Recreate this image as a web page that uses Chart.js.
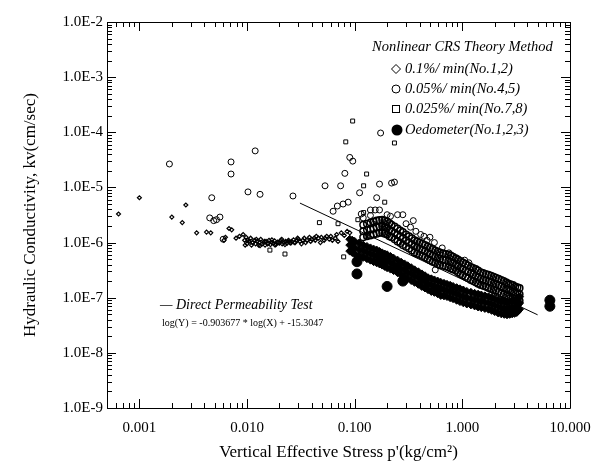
<!DOCTYPE html>
<html><head><meta charset="utf-8">
<script src="https://cdn.jsdelivr.net/npm/chart.js@4.4.1/dist/chart.umd.min.js"></script>
<style>html,body{margin:0;padding:0;background:#fff}</style>
</head><body>
<canvas id="c" width="603" height="469"></canvas>
<script>
// ---------- tick labels ----------
const xTickValues = [0.001, 0.01, 0.1, 1, 10];
const xTickLabels = ['0.001', '0.010', '0.100', '1.000', '10.000'];
const yTickValues = [1e-2, 1e-3, 1e-4, 1e-5, 1e-6, 1e-7, 1e-8, 1e-9];
const yTickLabels = ['1.0E-2', '1.0E-3', '1.0E-4', '1.0E-5', '1.0E-6', '1.0E-7', '1.0E-8', '1.0E-9'];

// ---------- 0.1%/min (No.1,2) : diamonds, scattered / plateau ----------
const diaX = [0.00064,0.001,0.0020,0.0025,0.0027,0.0034,0.0042,0.0046,0.0061,0.0063,0.0068,0.0072,0.0079,0.0085,
  0.0092,0.0095,0.0098,0.010,0.0104,0.0108,0.011,0.0113,0.0117,0.012,0.0124,0.0128,0.013,0.0134,0.0138,0.0142,
  0.0147,0.015,0.0155,0.016,0.0165,0.017,0.0176,0.018,0.0186,0.0192,0.020,0.0206,0.0212,0.022,0.0228,0.0235,
  0.0243,0.025,0.026,0.027,0.028,0.029,0.030,0.031,0.033,0.034,0.036,0.038,0.040,0.042,0.044,0.046,0.049,0.052,
  0.055,0.058,0.062,0.066,0.070,
  0.0096,0.0102,0.0112,0.0122,0.0132,0.0145,0.0158,0.017,0.0182,0.0196,0.021,0.0225,0.024,0.0255,0.0275,0.0295,
  0.032,0.035,0.039,0.043,0.048,0.053,0.060,0.068,0.075,0.080,0.085,0.090];
const diaY = [3.3e-6,6.5e-6,2.9e-6,2.3e-6,4.8e-6,1.5e-6,1.55e-6,1.5e-6,1.1e-6,1.25e-6,1.8e-6,1.7e-6,1.2e-6,1.3e-6,
  1.4e-6,1.1e-6,1.25e-6,0.95e-6,1.05e-6,1.2e-6,0.9e-6,1.0e-6,1.1e-6,0.95e-6,1.05e-6,0.9e-6,1.0e-6,1.15e-6,0.95e-6,1.0e-6,
  0.9e-6,1.05e-6,0.95e-6,1.1e-6,0.92e-6,1.0e-6,0.97e-6,1.08e-6,0.93e-6,1.02e-6,0.98e-6,1.1e-6,0.95e-6,1.0e-6,1.05e-6,0.97e-6,
  1.1e-6,1.0e-6,1.05e-6,1.12e-6,1.0e-6,1.08e-6,1.15e-6,1.05e-6,1.1e-6,1.2e-6,1.1e-6,1.25e-6,1.15e-6,1.2e-6,1.3e-6,1.2e-6,1.25e-6,1.1e-6,
  1.3e-6,1.15e-6,1.1e-6,1.2e-6,1.05e-6,
  0.9e-6,1.1e-6,1.0e-6,1.15e-6,0.88e-6,1.05e-6,0.98e-6,1.12e-6,0.9e-6,1.0e-6,1.15e-6,0.92e-6,1.05e-6,0.98e-6,1.0e-6,1.2e-6,
  0.95e-6,1.0e-6,1.05e-6,1.1e-6,1.0e-6,1.2e-6,1.3e-6,1.4e-6,1.5e-6,1.35e-6,1.6e-6,1.5e-6];

// ---------- lower dense band (0.1%/min) ----------
const lowBandX  = [0.09,0.10,0.12,0.14,0.16,0.18,0.20,0.23,0.27,0.31,0.36,0.42,0.48,0.55,0.63,0.72,0.82,0.95,1.1,1.3,1.5,1.75,2.0,2.3,2.6,2.9,3.2,3.4,
  0.095,0.11,0.13,0.15,0.17,0.19,0.215,0.25,0.29,0.335,0.39,0.45,0.515,0.59,0.675,0.77,0.885,1.02,1.2,1.4,1.62,1.87,2.15,2.45,2.75,3.05,3.3];
const lowBandHi = [1.15e-6,1.05e-6,9e-7,8e-7,7.3e-7,6.5e-7,6e-7,5.2e-7,4.4e-7,3.8e-7,3.2e-7,2.7e-7,2.3e-7,2.1e-7,1.9e-7,1.75e-7,1.6e-7,1.45e-7,1.3e-7,1.2e-7,1.12e-7,1.04e-7,9.5e-8,8.6e-8,8.2e-8,8.6e-8,9.1e-8,1.04e-7,
  1.1e-6,9.8e-7,8.5e-7,7.6e-7,6.9e-7,6.2e-7,5.6e-7,4.8e-7,4.1e-7,3.5e-7,2.95e-7,2.5e-7,2.2e-7,2.0e-7,1.82e-7,1.68e-7,1.52e-7,1.38e-7,1.25e-7,1.16e-7,1.08e-7,1.0e-7,9.0e-8,8.4e-8,8.4e-8,8.8e-8,9.8e-8];
const lowBandMid= [9e-7,8e-7,7e-7,6.2e-7,5.6e-7,5e-7,4.6e-7,4e-7,3.4e-7,2.9e-7,2.5e-7,2.1e-7,1.8e-7,1.6e-7,1.45e-7,1.35e-7,1.25e-7,1.1e-7,1.0e-7,9.2e-8,8.6e-8,8e-8,7.3e-8,6.6e-8,6.3e-8,6.6e-8,7e-8,8e-8,
  8.5e-7,7.5e-7,6.6e-7,5.9e-7,5.3e-7,4.8e-7,4.3e-7,3.7e-7,3.15e-7,2.7e-7,2.3e-7,1.95e-7,1.7e-7,1.52e-7,1.4e-7,1.3e-7,1.18e-7,1.05e-7,9.6e-8,8.9e-8,8.3e-8,7.6e-8,6.9e-8,6.4e-8,6.4e-8,6.8e-8,7.5e-8];
const lowBandLo = [7e-7,6.2e-7,5.4e-7,4.8e-7,4.3e-7,3.9e-7,3.5e-7,3.1e-7,2.6e-7,2.2e-7,1.9e-7,1.6e-7,1.4e-7,1.25e-7,1.1e-7,1.05e-7,9.6e-8,8.5e-8,7.7e-8,7.1e-8,6.6e-8,6.2e-8,5.6e-8,5.1e-8,4.9e-8,5.1e-8,5.4e-8,6.2e-8,
  6.6e-7,5.8e-7,5.1e-7,4.5e-7,4.1e-7,3.7e-7,3.3e-7,2.85e-7,2.4e-7,2.05e-7,1.75e-7,1.5e-7,1.3e-7,1.18e-7,1.08e-7,1.0e-7,9.0e-8,8.1e-8,7.4e-8,6.8e-8,6.4e-8,5.9e-8,5.3e-8,5.0e-8,5.0e-8,5.2e-8,5.8e-8];

// ---------- 0.05%/min (No.4,5) : circles ----------
const cirX = [0.0019,0.0071,0.0071,0.0119,0.0047,0.0102,0.0132,0.0267,0.0045,0.0049,0.0052,0.0056,0.0060,
  0.174,0.090,0.096,0.081,0.053,0.074,0.17,0.22,0.234,0.111,0.16,0.069,0.078,0.087,0.063,0.14,0.155,0.17,
  0.20,0.215,0.25,0.28,0.44,0.47,0.50,0.62,0.86,0.56,
  0.30,0.33,0.37,0.41,0.35,0.55,0.65,0.75,1.05,1.15,0.12,0.115,0.14];
const cirY = [2.66e-5,2.9e-5,1.75e-5,4.6e-5,6.5e-6,8.3e-6,7.5e-6,7.0e-6,2.8e-6,2.5e-6,2.6e-6,2.9e-6,1.15e-6,
  9.7e-5,3.5e-5,3.0e-5,1.8e-5,1.07e-5,1.07e-5,1.15e-5,1.2e-5,1.25e-5,8e-6,6.5e-6,4.6e-6,5.0e-6,5.4e-6,3.7e-6,3.9e-6,3.9e-6,3.9e-6,
  3.2e-6,3.0e-6,3.2e-6,3.2e-6,1.3e-6,1.1e-6,1.25e-6,6e-7,5.2e-7,3.2e-7,
  2.2e-6,1.9e-6,1.6e-6,1.4e-6,2.5e-6,1.0e-6,8e-7,6.5e-7,4.8e-7,4.3e-7,2.8e-6,3.3e-6,3.1e-6];

// ---------- upper dense band (0.05%/min) ----------
const upBandX  = [0.12,0.14,0.16,0.18,0.20,0.22,0.25,0.28,0.32,0.36,0.40,0.45,0.50,0.56,0.62,0.70,0.78,0.87,0.96,1.07,1.2,1.33,1.48,1.65,1.85,2.05,2.3,2.55,2.8,3.1,3.4,
  0.13,0.15,0.17,0.19,0.21,0.235,0.265,0.30,0.34,0.38,0.425,0.475,0.53,0.59,0.66,0.74,0.82,0.91,1.01,1.13,1.26,1.4,1.56,1.75,1.95,2.17,2.42,2.67,2.95,3.25];
const upBandHi = [2.1e-6,2.3e-6,2.5e-6,2.6e-6,2.4e-6,2.1e-6,1.8e-6,1.55e-6,1.3e-6,1.1e-6,1.0e-6,9e-7,8e-7,7.2e-7,6.6e-7,6.2e-7,5.8e-7,5.2e-7,4.6e-7,4.1e-7,3.6e-7,3.3e-7,2.9e-7,2.7e-7,2.5e-7,2.3e-7,2.1e-7,1.9e-7,1.75e-7,1.6e-7,1.5e-7,
  2.2e-6,2.4e-6,2.55e-6,2.5e-6,2.25e-6,1.95e-6,1.65e-6,1.4e-6,1.2e-6,1.05e-6,9.5e-7,8.5e-7,7.6e-7,6.9e-7,6.4e-7,6e-7,5.5e-7,4.9e-7,4.35e-7,3.85e-7,3.45e-7,3.1e-7,2.8e-7,2.6e-7,2.4e-7,2.2e-7,2.0e-7,1.8e-7,1.7e-7,1.55e-7];
const upBandMid= [1.6e-6,1.75e-6,1.9e-6,2.0e-6,1.85e-6,1.6e-6,1.4e-6,1.2e-6,1.0e-6,8.6e-7,7.8e-7,7e-7,6.2e-7,5.5e-7,5.1e-7,4.8e-7,4.5e-7,4e-7,3.5e-7,3.1e-7,2.8e-7,2.5e-7,2.2e-7,2.05e-7,1.9e-7,1.75e-7,1.6e-7,1.45e-7,1.35e-7,1.25e-7,1.15e-7,
  1.7e-6,1.8e-6,1.95e-6,1.9e-6,1.7e-6,1.5e-6,1.3e-6,1.1e-6,9.3e-7,8.2e-7,7.4e-7,6.6e-7,5.8e-7,5.3e-7,4.9e-7,4.6e-7,4.25e-7,3.75e-7,3.3e-7,2.95e-7,2.65e-7,2.35e-7,2.1e-7,1.95e-7,1.8e-7,1.68e-7,1.52e-7,1.4e-7,1.3e-7,1.2e-7];
const upBandLo = [1.25e-6,1.35e-6,1.45e-6,1.5e-6,1.4e-6,1.25e-6,1.05e-6,9e-7,7.8e-7,6.6e-7,6e-7,5.4e-7,4.8e-7,4.3e-7,3.9e-7,3.7e-7,3.4e-7,3.1e-7,2.7e-7,2.4e-7,2.1e-7,1.9e-7,1.7e-7,1.6e-7,1.45e-7,1.35e-7,1.2e-7,1.1e-7,1.0e-7,9.5e-8,8.8e-8,
  1.3e-6,1.4e-6,1.5e-6,1.45e-6,1.3e-6,1.15e-6,9.8e-7,8.4e-7,7.2e-7,6.3e-7,5.7e-7,5.1e-7,4.5e-7,4.1e-7,3.8e-7,3.55e-7,3.25e-7,2.9e-7,2.55e-7,2.25e-7,2.0e-7,1.8e-7,1.65e-7,1.52e-7,1.4e-7,1.28e-7,1.15e-7,1.05e-7,9.8e-8,9.2e-8];

// ---------- 0.025%/min (No.7,8) : squares ----------
const sqX = [0.0957,0.234,0.0826,0.129,0.121,0.19,0.121,0.047,0.070,0.107,0.0163,0.0225,0.15,0.18,0.186,0.079,0.296,0.26,0.13];
const sqY = [1.6e-4,6.4e-5,6.7e-5,1.75e-5,1.07e-5,5.4e-6,3.5e-6,2.3e-6,2.2e-6,2.6e-6,7.3e-7,6.2e-7,2.2e-6,2.1e-6,1.8e-6,5.5e-7,2.1e-7,1.0e-6,1.3e-6];

// ---------- Oedometer (No.1,2,3) ----------
const oedX = [0.105,0.105,0.20,0.28,6.5,6.5];
const oedY = [4.5e-7,2.7e-7,1.6e-7,2.0e-7,9.0e-8,7.0e-8];

// ---------- Direct permeability test fit line ----------
const fitX = [0.031, 5.0];
const fitY = [5.2e-6, 4.9e-8];

const X_MIN = 0.0005, X_MAX = 10, Y_MIN = 1e-9, Y_MAX = 1e-2;
const SERIF = "'Liberation Serif', 'DejaVu Serif', serif";

function pts(xs, ys){ return xs.map((x,i)=>({x:x, y:ys[i]})); }
function band(xs, a, b, c){ const o=[]; xs.forEach((x,i)=>{o.push({x:x,y:a[i]},{x:x,y:b[i]},{x:x,y:c[i]});}); return o; }

const frameTicks = {
  id: 'frameTicks',
  afterDatasetsDraw(chart){
    const {ctx, chartArea:{left,right,top,bottom}, scales:{x,y}} = chart;
    ctx.save();
    ctx.strokeStyle = '#000'; ctx.lineWidth = 1;
    ctx.beginPath();
    ctx.rect(Math.round(left)+0.5, Math.round(top)+0.5, Math.round(right-left), Math.round(bottom-top));
    ctx.stroke();
    ctx.beginPath();
    for (let d=-4; d<=1; d++) for (let m=1; m<=9; m++){
      const v = m*Math.pow(10,d);
      if (v < X_MIN*0.999 || v > X_MAX*1.001) continue;
      const px = Math.round(x.getPixelForValue(v))+0.5;
      const L = m===1 ? 9 : 5;
      ctx.moveTo(px, bottom); ctx.lineTo(px, bottom-L);
      ctx.moveTo(px, top); ctx.lineTo(px, top+L);
    }
    for (let d=-9; d<=-2; d++) for (let m=1; m<=9; m++){
      const v = m*Math.pow(10,d);
      if (v < Y_MIN*0.999 || v > Y_MAX*1.001) continue;
      const py = Math.round(y.getPixelForValue(v))+0.5;
      const L = m===1 ? 9 : 5;
      ctx.moveTo(left, py); ctx.lineTo(left+L, py);
      ctx.moveTo(right, py); ctx.lineTo(right-L, py);
    }
    ctx.stroke();
    ctx.restore();
  }
};

const annot = {
  id: 'annot',
  afterDraw(chart){
    const {ctx} = chart;
    ctx.save();
    ctx.fillStyle = '#000'; ctx.strokeStyle = '#000';
    ctx.textBaseline = 'middle'; ctx.textAlign = 'left';
    ctx.font = 'italic 14.5px ' + SERIF;
    ctx.fillText('Nonlinear CRS Theory Method', 372, 47);
    const items = ['0.1%/ min(No.1,2)', '0.05%/ min(No.4,5)', '0.025%/ min(No.7,8)', 'Oedometer(No.1,2,3)'];
    const ys = [69, 89, 109, 130];
    items.forEach((t,i)=>ctx.fillText(t, 405, ys[i]));
    ctx.lineWidth = 1;
    ctx.beginPath(); ctx.moveTo(396, ys[0]-4.5); ctx.lineTo(400.5, ys[0]); ctx.lineTo(396, ys[0]+4.5); ctx.lineTo(391.5, ys[0]); ctx.closePath(); ctx.stroke();
    ctx.beginPath(); ctx.arc(396, ys[1], 4, 0, Math.PI*2); ctx.stroke();
    ctx.strokeRect(392.5, ys[2]-3.5, 7, 7);
    ctx.beginPath(); ctx.arc(397, ys[3], 5.5, 0, Math.PI*2); ctx.fill();
    ctx.font = 'italic 14px ' + SERIF;
    ctx.fillText('\u2014 Direct Permeability Test', 160, 305);
    ctx.font = '10px ' + SERIF;
    ctx.fillText('log(Y) = -0.903677 * log(X) + -15.3047', 162, 323);
    ctx.restore();
  }
};

new Chart(document.getElementById('c'), {
  type: 'scatter',
  data: {
    datasets: [
      { label: 'Direct Permeability Test', type: 'line', data: pts(fitX, fitY), showLine: true,
        borderColor: '#000', borderWidth: 1, pointRadius: 0, fill: false },
      { label: '0.1%/min(No.1,2)', data: pts(diaX, diaY), pointStyle: 'rectRot', pointRadius: 2,
        borderColor: '#000', backgroundColor: 'rgba(0,0,0,0)', borderWidth: 1.2 },
      { label: '0.1%/min band', data: band(lowBandX, lowBandHi, lowBandMid, lowBandLo), pointStyle: 'rectRot', pointRadius: 4,
        borderColor: '#000', backgroundColor: '#000', borderWidth: 1 },
      { label: '0.05%/min(No.4,5)', data: pts(cirX, cirY), pointStyle: 'circle', pointRadius: 3,
        borderColor: '#000', backgroundColor: 'rgba(0,0,0,0)', borderWidth: 1 },
      { label: '0.05%/min band', data: band(upBandX, upBandHi, upBandMid, upBandLo), pointStyle: 'circle', pointRadius: 3.3,
        borderColor: '#000', backgroundColor: 'rgba(0,0,0,0)', borderWidth: 1.5 },
      { label: '0.025%/min(No.7,8)', data: pts(sqX, sqY), pointStyle: 'rect', pointRadius: 2.8,
        borderColor: '#000', backgroundColor: 'rgba(0,0,0,0)', borderWidth: 1 },
      { label: 'Oedometer(No.1,2,3)', data: pts(oedX, oedY), pointStyle: 'circle', pointRadius: 5,
        borderColor: '#000', backgroundColor: '#000', borderWidth: 1 }
    ]
  },
  options: {
    responsive: false, animation: false, devicePixelRatio: 1,
    layout: { padding: { left: 0, top: 22, right: 33, bottom: 0 } },
    plugins: { legend: { display: false }, tooltip: { enabled: false } },
    scales: {
      x: {
        type: 'logarithmic', min: X_MIN, max: X_MAX,
        grid: { display: false, drawTicks: false }, border: { display: false },
        afterBuildTicks: s => { s.ticks = xTickValues.map(v => ({ value: v })); },
        afterFit: s => { s.height = 61; },
        ticks: { autoSkip: false, maxRotation: 0, padding: 11, color: '#000',
          font: { family: SERIF, size: 15 },
          callback: v => { const i = xTickValues.findIndex(t => Math.abs(t - v) / t < 1e-6); return i >= 0 ? xTickLabels[i] : ''; } },
        title: { display: true, text: "Vertical Effective Stress p'(kg/cm\u00b2)", color: '#000',
          font: { family: SERIF, size: 17 }, padding: { top: 0, bottom: 6 } }
      },
      y: {
        type: 'logarithmic', min: Y_MIN, max: Y_MAX,
        grid: { display: false, drawTicks: false }, border: { display: false },
        afterBuildTicks: s => { s.ticks = yTickValues.map(v => ({ value: v })); },
        afterFit: s => { s.width = 107; },
        ticks: { autoSkip: false, padding: 4, color: '#000',
          font: { family: SERIF, size: 15 },
          callback: v => { const i = yTickValues.findIndex(t => Math.abs(t - v) / t < 1e-6); return i >= 0 ? yTickLabels[i] : ''; } },
        title: { display: true, text: 'Hydraulic Conductivity, kv(cm/sec)', color: '#000',
          font: { family: SERIF, size: 17 }, padding: { top: 20, bottom: 0 } }
      }
    }
  },
  plugins: [frameTicks, annot]
});
</script>
</body></html>
